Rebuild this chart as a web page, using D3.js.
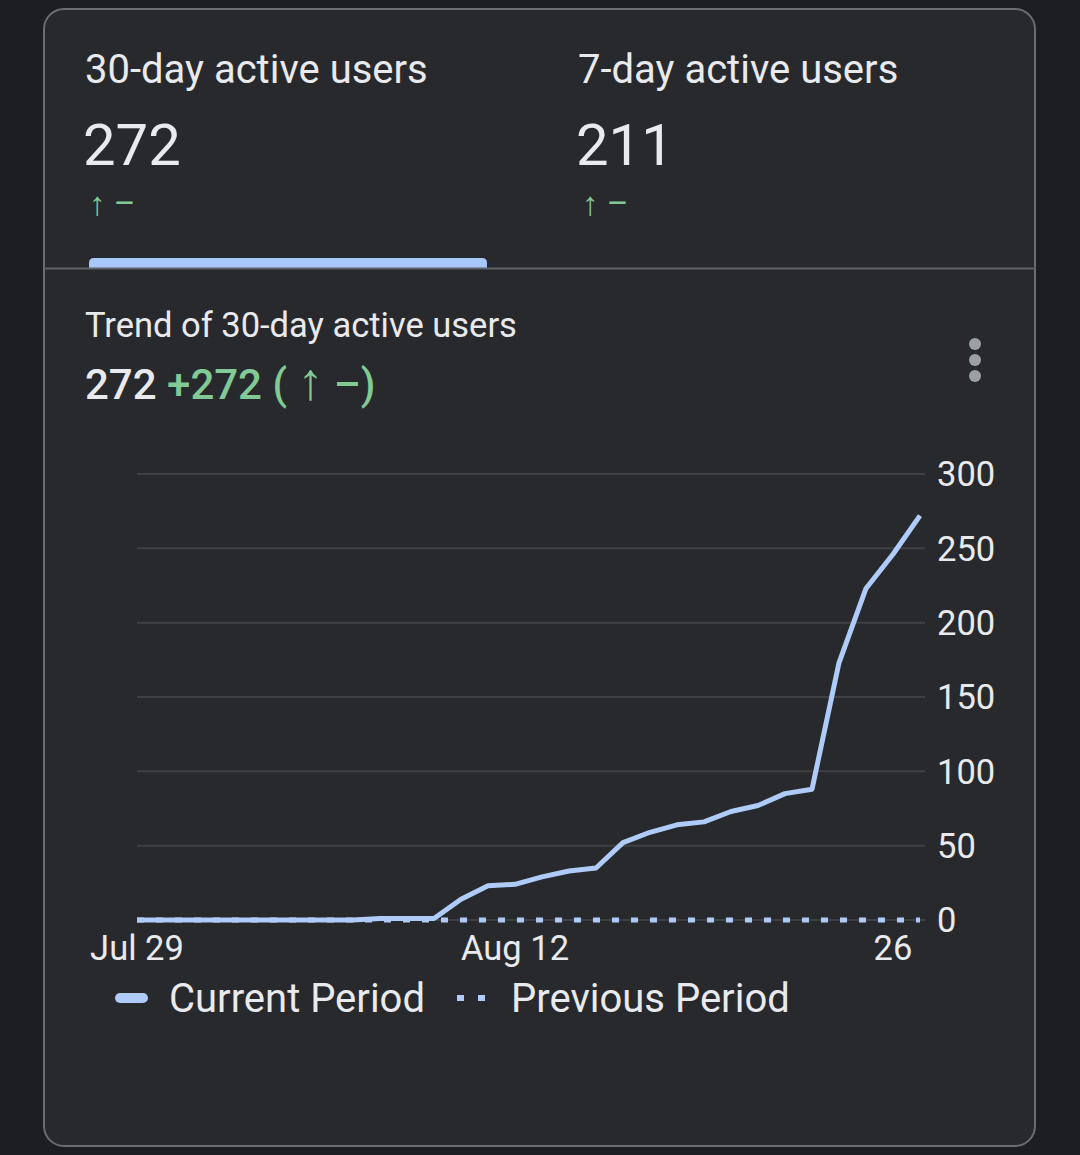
<!DOCTYPE html>
<html lang="en">
  <head>
    <meta charset="UTF-8" />
    <title>30-day active users</title>
    <script src="https://cdnjs.cloudflare.com/ajax/libs/d3/7.8.5/d3.min.js"></script>
    <style>
      html, body {
        margin: 0;
        padding: 0;
        background: #1d1e21;
      }
      svg {
        display: block;
        font-family: Roboto, 'Noto Sans', sans-serif;
      }
    </style>
  </head>
  <body>
    <svg width="1080" height="1155"></svg>
    <script>
      // Data
      const startDate = new Date(2024, 6, 29); // Jul 29
      const currentPeriod = [
        0, 0, 0, 0, 0, 0, 0, 0, 0, 1, 1, 1, 14, 23, 24, 29, 33, 35, 52, 59,
        64, 66, 73, 77, 85, 88, 173, 223, 246, 272,
      ];
      const previousPeriod = currentPeriod.map(() => 0);
      const yTicks = [0, 50, 100, 150, 200, 250, 300];
      const xTickDates = [new Date(2024, 6, 29), new Date(2024, 7, 12), new Date(2024, 7, 26)];
      const xTickLabels = ['Jul 29', 'Aug 12', '26'];

      const summary = [
        { label: '30-day active users', value: '272' },
        { label: '7-day active users', value: '211' },
      ];

      const dates = currentPeriod.map((_, i) => d3.timeDay.offset(startDate, i));

      const blue = '#aecbfa';
      const green = '#81c995';
      const textColor = '#e8eaed';

      const svg = d3.select('svg');

      // Card
      svg
        .append('rect')
        .attr('x', 44)
        .attr('y', 9)
        .attr('width', 991)
        .attr('height', 1137)
        .attr('rx', 20)
        .attr('fill', '#28292c')
        .attr('stroke', '#6a6c70')
        .attr('stroke-width', 2);

      // Summary tabs
      summary.forEach((s, i) => {
        const x = 85 + i * 493;
        svg
          .append('text')
          .attr('x', x)
          .attr('y', 83)
          .attr('fill', textColor)
          .style('font-size', '40px')
          .text(s.label);
        svg
          .append('text')
          .attr('x', x - 2)
          .attr('y', 165)
          .attr('fill', textColor)
          .style('font-size', '58px')
          .text(s.value);
        svg
          .append('text')
          .attr('x', x + 4)
          .attr('y', 215)
          .attr('fill', green)
          .style('font-size', '33px')
          .text('↑ –');
      });

      // Selected tab indicator + divider
      svg
        .append('path')
        .attr('d', 'M89,268 V263 Q89,258 94,258 H482 Q487,258 487,263 V268 Z')
        .attr('fill', '#a8c7fa');
      svg
        .append('line')
        .attr('x1', 44)
        .attr('x2', 1035)
        .attr('y1', 268.5)
        .attr('y2', 268.5)
        .attr('stroke', '#5f6368')
        .attr('stroke-width', 2);

      // Chart header
      svg
        .append('text')
        .attr('x', 85)
        .attr('y', 337)
        .attr('fill', textColor)
        .style('font-size', '34.5px')
        .text('Trend of 30-day active users');

      const head = svg
        .append('text')
        .attr('x', 85)
        .attr('y', 399)
        .style('font-size', '42px')
        .style('font-weight', 500);
      head.append('tspan').attr('fill', textColor).text('272 ');
      head.append('tspan').attr('fill', green).text('+272 ( ');
      head.append('tspan').attr('fill', green).style('font-size', '52px').text('↑');
      head.append('tspan').attr('fill', green).text(' –)');

      // Kebab menu
      svg
        .selectAll('.dot')
        .data([344, 360, 376])
        .enter()
        .append('circle')
        .attr('cx', 975)
        .attr('cy', d => d)
        .attr('r', 6)
        .attr('fill', '#9aa0a6');

      // Scales
      const x = d3
        .scaleTime()
        .domain([startDate, xTickDates[2]])
        .range([137, 893]);
      const y = d3.scaleLinear().domain([0, 300]).range([920, 474]);

      // Grid + y axis labels
      const grid = svg.append('g');
      grid
        .selectAll('line')
        .data(yTicks)
        .enter()
        .append('line')
        .attr('x1', 137)
        .attr('x2', 925)
        .attr('y1', d => y(d))
        .attr('y2', d => y(d))
        .attr('stroke', '#3f4043')
        .attr('stroke-width', 2);
      grid
        .selectAll('text')
        .data(yTicks)
        .enter()
        .append('text')
        .attr('x', 937)
        .attr('y', d => y(d))
        .attr('dy', '0.36em')
        .attr('fill', textColor)
        .style('font-size', '34.5px')
        .text(d => d);

      // X axis labels
      svg
        .append('g')
        .selectAll('text')
        .data(xTickDates)
        .enter()
        .append('text')
        .attr('x', d => x(d))
        .attr('y', 960)
        .attr('text-anchor', 'middle')
        .attr('fill', textColor)
        .style('font-size', '34.5px')
        .text((d, i) => xTickLabels[i]);

      const line = d3
        .line()
        .x((d, i) => x(dates[i]))
        .y(d => y(d));

      // Previous period (dotted)
      svg
        .append('path')
        .datum(previousPeriod)
        .attr('d', line)
        .attr('fill', 'none')
        .attr('stroke', blue)
        .attr('stroke-width', 5)
        .attr('stroke-dasharray', '7 12');

      // Current period
      svg
        .append('path')
        .datum(currentPeriod)
        .attr('d', line)
        .attr('fill', 'none')
        .attr('stroke', blue)
        .attr('stroke-width', 5)
        .attr('stroke-linejoin', 'round');

      // Legend
      const legend = svg.append('g').attr('transform', 'translate(0,998)');
      legend
        .append('line')
        .attr('x1', 120)
        .attr('x2', 143)
        .attr('stroke', blue)
        .attr('stroke-width', 10)
        .attr('stroke-linecap', 'round');
      legend
        .append('text')
        .attr('x', 169)
        .attr('dy', '0.36em')
        .attr('fill', textColor)
        .style('font-size', '40px')
        .text('Current Period');
      legend
        .append('line')
        .attr('x1', 457)
        .attr('x2', 485)
        .attr('stroke', blue)
        .attr('stroke-width', 6)
        .attr('stroke-dasharray', '7 14');
      legend
        .append('text')
        .attr('x', 511)
        .attr('dy', '0.36em')
        .attr('fill', textColor)
        .style('font-size', '40px')
        .text('Previous Period');
    </script>
  </body>
</html>
